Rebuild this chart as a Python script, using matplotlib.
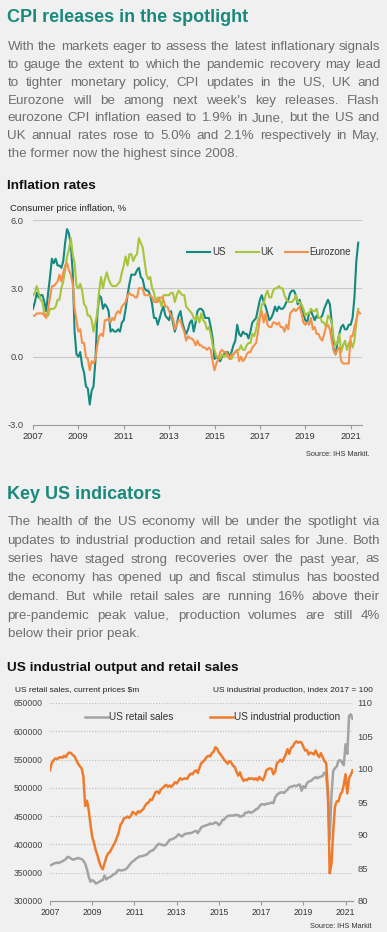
import matplotlib
matplotlib.use('Agg')
import matplotlib.pyplot as plt
import numpy as np
from matplotlib.font_manager import FontProperties

# ---- inflation rates, % y/y, monthly from Jan 2007 ----
us_cpi = [
    2.1, 2.4, 2.8, 2.6, 2.7, 2.7, 2.4, 2.0, 2.8, 3.5, 4.3, 4.1,
    4.3, 4.0, 4.0, 3.9, 4.2, 5.0, 5.6, 5.4, 4.9, 3.7, 1.1, 0.1,
    0.0, 0.2, -0.4, -0.7, -1.3, -1.4, -2.1, -1.5, -1.3, -0.2, 1.8, 2.7,
    2.6, 2.1, 2.3, 2.2, 2.0, 1.1, 1.2, 1.1, 1.1, 1.2, 1.1, 1.5,
    1.6, 2.1, 2.7, 3.2, 3.6, 3.6, 3.6, 3.8, 3.9, 3.5, 3.4, 3.0,
    2.9, 2.9, 2.7, 2.3, 1.7, 1.7, 1.4, 1.7, 2.0, 2.2, 1.8, 1.7,
    1.6, 2.0, 1.5, 1.1, 1.4, 1.8, 2.0, 1.5, 1.2, 1.0, 1.2, 1.5,
    1.6, 1.1, 1.5, 2.0, 2.1, 2.1, 2.0, 1.7, 1.7, 1.7, 1.3, 0.8,
    -0.1, 0.0, -0.1, -0.2, 0.0, 0.1, 0.2, 0.2, 0.0, 0.2, 0.5, 0.7,
    1.4, 1.0, 0.9, 1.1, 1.0, 1.0, 0.8, 1.1, 1.5, 1.6, 1.7, 2.1,
    2.5, 2.7, 2.4, 2.2, 1.9, 1.6, 1.7, 1.9, 2.2, 2.0, 2.2, 2.1,
    2.1, 2.2, 2.4, 2.5, 2.8, 2.9, 2.9, 2.7, 2.3, 2.5, 2.2, 1.9,
    1.6, 1.5, 1.9, 2.0, 1.8, 1.6, 1.8, 1.7, 1.7, 1.8, 2.1, 2.3,
    2.5, 2.3, 1.5, 0.3, 0.1, 0.6, 1.0, 1.3, 1.4, 1.2, 1.2, 1.4,
    1.4, 1.7, 2.6, 4.2, 5.0,
]
uk_cpi = [
    2.7, 2.8, 3.1, 2.8, 2.5, 2.4, 1.9, 1.8, 1.8, 2.1, 2.1, 2.1,
    2.2, 2.5, 2.5, 3.0, 3.3, 3.8, 4.4, 4.7, 5.2, 4.5, 4.1, 3.1,
    3.0, 3.2, 2.9, 2.3, 2.2, 1.8, 1.8, 1.6, 1.1, 1.5, 1.9, 2.9,
    3.5, 3.0, 3.4, 3.7, 3.4, 3.2, 3.1, 3.1, 3.1, 3.2, 3.3, 3.7,
    4.0, 4.4, 4.0, 4.5, 4.5, 4.2, 4.4, 4.5, 5.2, 5.0, 4.8, 4.2,
    3.6, 3.4, 3.5, 3.0, 2.8, 2.4, 2.6, 2.5, 2.2, 2.7, 2.7, 2.7,
    2.7, 2.8, 2.8, 2.4, 2.7, 2.9, 2.8, 2.7, 2.7, 2.2, 2.1, 2.0,
    1.9, 1.7, 1.6, 1.8, 1.5, 1.9, 1.6, 1.5, 1.2, 1.3, 1.0, 0.5,
    0.3, 0.0, 0.0, -0.1, 0.1, 0.0, 0.1, 0.0, -0.1, -0.1, 0.1, 0.2,
    0.3, 0.3, 0.5, 0.3, 0.3, 0.5, 0.6, 0.6, 1.0, 0.9, 1.2, 1.6,
    1.8, 2.3, 2.3, 2.7, 2.9, 2.6, 2.6, 2.9, 3.0, 3.0, 3.1, 3.0,
    3.0, 2.7, 2.5, 2.4, 2.4, 2.4, 2.5, 2.7, 2.4, 2.4, 2.3, 2.1,
    1.8, 1.9, 1.9, 2.1, 2.0, 2.0, 2.1, 1.7, 1.7, 1.5, 1.5, 1.3,
    1.8, 1.7, 1.5, 0.8, 0.5, 0.6, 1.0, 0.2, 0.5, 0.7, 0.3, 0.6,
    0.7, 0.4, 0.7, 1.5, 2.1,
]
ez_cpi = [
    1.8, 1.8, 1.9, 1.9, 1.9, 1.9, 1.8, 1.7, 2.1, 2.6, 3.1, 3.1,
    3.2, 3.3, 3.6, 3.3, 3.7, 4.0, 4.1, 3.8, 3.6, 3.2, 2.1, 1.6,
    1.1, 1.2, 0.6, 0.6, 0.0, -0.1, -0.6, -0.2, -0.3, -0.1, 0.5, 0.9,
    1.0, 0.9, 1.6, 1.6, 1.7, 1.5, 1.7, 1.6, 1.9, 2.0, 1.9, 2.2,
    2.3, 2.4, 2.7, 2.8, 2.7, 2.7, 2.6, 2.6, 3.0, 3.0, 3.0, 2.7,
    2.7, 2.7, 2.7, 2.6, 2.4, 2.4, 2.4, 2.6, 2.6, 2.5, 2.2, 2.2,
    2.0, 1.8, 1.7, 1.2, 1.4, 1.6, 1.6, 1.3, 1.1, 0.7, 0.9, 0.8,
    0.8, 0.7, 0.5, 0.7, 0.5, 0.5, 0.4, 0.4, 0.3, 0.4, 0.3, -0.2,
    -0.6, -0.3, -0.1, 0.2, 0.3, 0.2, 0.2, 0.1, -0.1, 0.1, 0.1, 0.2,
    0.3, -0.2, 0.0, -0.2, -0.1, 0.1, 0.2, 0.2, 0.4, 0.5, 0.6, 1.1,
    1.7, 2.0, 1.5, 1.9, 1.4, 1.3, 1.3, 1.5, 1.5, 1.4, 1.5, 1.3,
    1.3, 1.1, 1.4, 1.2, 1.9, 2.0, 2.1, 2.0, 2.1, 2.2, 1.9, 1.5,
    1.4, 1.5, 1.4, 1.7, 1.2, 1.3, 1.0, 1.0, 0.8, 0.7, 1.0, 1.3,
    1.4, 1.2, 0.7, 0.3, 0.1, 0.3, 0.4, -0.2, -0.3, -0.3, -0.3, -0.3,
    0.9, 0.9, 1.3, 1.6, 2.0, 1.9,
]

# ---- US retail sales ($bn here, x1000 -> $m) and industrial production ----
retail_bn = [
    363, 364, 366, 367, 368, 367, 369, 370, 372, 374, 378, 377,
    375, 373, 374, 375, 376, 375, 374, 371, 366, 356, 343, 334,
    337, 335, 331, 332, 334, 336, 337, 345, 338, 341, 342, 344,
    347, 348, 352, 355, 354, 354, 355, 356, 359, 363, 367, 370,
    372, 375, 377, 379, 379, 380, 381, 382, 385, 388, 389, 391,
    395, 399, 401, 400, 399, 398, 400, 404, 408, 409, 410, 412,
    414, 418, 416, 414, 417, 419, 419, 420, 420, 421, 423, 424,
    420, 425, 430, 432, 433, 434, 435, 437, 436, 437, 439, 438,
    434, 437, 443, 444, 448, 450, 451, 451, 451, 452, 452, 452,
    449, 450, 451, 456, 456, 458, 456, 457, 459, 462, 463, 467,
    471, 471, 470, 472, 472, 473, 474, 473, 483, 488, 490, 492,
    492, 491, 494, 497, 501, 502, 503, 504, 503, 505, 506, 495,
    503, 500, 508, 511, 512, 514, 517, 519, 517, 519, 520, 521,
    527, 524, 483, 410, 487, 530, 535, 538, 548, 549, 545, 540,
    577, 560, 627, 630, 622,
]
ind_prod = [
    99.8, 100.9, 101.3, 101.6, 101.5, 101.7, 101.8, 101.7, 102.0, 101.8, 102.3, 102.5,
    102.4, 102.1, 101.9, 101.3, 100.8, 100.4, 100.1, 98.8, 94.4, 95.2, 93.8, 91.6,
    89.7, 88.8, 87.7, 86.9, 85.9, 85.2, 84.8, 85.7, 86.6, 87.2, 87.4, 87.9,
    88.4, 88.9, 89.6, 90.3, 91.5, 91.9, 92.5, 92.6, 92.8, 92.6, 92.9, 93.5,
    93.3, 93.1, 93.6, 93.4, 93.7, 93.9, 94.4, 94.8, 94.9, 95.4, 95.3, 95.9,
    96.5, 96.6, 96.3, 96.9, 97.1, 97.4, 97.6, 97.3, 97.5, 97.3, 97.6, 98.0,
    97.8, 98.2, 98.6, 98.4, 98.5, 98.6, 98.5, 99.0, 99.3, 99.2, 99.6, 99.8,
    99.4, 100.2, 100.9, 101.1, 101.4, 101.8, 102.0, 101.9, 102.4, 102.6, 103.3, 103.1,
    102.5, 102.2, 101.8, 101.4, 101.1, 100.8, 101.2, 101.0, 100.5, 100.3, 99.6, 99.0,
    99.5, 98.7, 98.2, 98.4, 98.3, 98.6, 98.5, 98.6, 98.4, 98.6, 98.3, 98.8,
    98.5, 98.3, 98.9, 99.8, 100.0, 100.1, 100.0, 99.2, 99.6, 100.9, 101.1, 101.4,
    101.1, 101.6, 102.2, 103.0, 102.3, 103.2, 103.4, 103.9, 104.2, 104.0, 104.1, 104.0,
    103.4, 102.8, 102.9, 102.2, 102.5, 102.4, 102.2, 102.8, 102.2, 101.8, 102.4, 101.8,
    101.2, 100.9, 96.6, 84.2, 85.6, 90.6, 94.3, 95.1, 95.1, 96.1, 96.5, 97.6,
    99.2, 96.3, 98.6, 99.1, 99.8,
]

year_ticks = list(range(2007, 2022, 2))

text1 = [
    "With the markets eager to assess the latest inflationary signals",
    "to gauge the extent to which the pandemic recovery may lead",
    "to tighter monetary policy, CPI updates in the US, UK and",
    "Eurozone will be among next week's key releases. Flash",
    "eurozone CPI inflation eased to 1.9% in June, but the US and",
    "UK annual rates rose to 5.0% and 2.1% respectively in May,",
    "the former now the highest since 2008.",
]
text2 = [
    "The health of the US economy will be under the spotlight via",
    "updates to industrial production and retail sales for June. Both",
    "series have staged strong recoveries over the past year, as",
    "the economy has opened up and fiscal stimulus has boosted",
    "demand. But while retail sales are running 16% above their",
    "pre-pandemic peak value, production volumes are still 4%",
    "below their prior peak.",
]

BG = '#f0f0f0'
TEAL = '#19897c'
GREY_TXT = '#6e6e6e'
FONT = 'Liberation Sans'
W, H = 387, 932

plt.rcParams['font.family'] = FONT

fig = plt.figure(figsize=(W / 100, H / 100), dpi=100, facecolor=BG)
renderer = fig.canvas.get_renderer()


def fy(px):
    return 1 - px / H


def text_width(s, prop):
    return renderer.get_text_width_height_descent(s, prop, ismath=False)[0]


def justified(lines, x0, x1, base, step, size):
    prop = FontProperties(family=FONT, size=size)
    for k, line in enumerate(lines):
        y = fy(base + k * step)
        if k == len(lines) - 1:
            fig.text(x0 / W, y, line, fontproperties=prop, color=GREY_TXT, va='baseline')
            continue
        words = line.split()
        widths = [text_width(w, prop) for w in words]
        gap = (x1 - x0 - sum(widths)) / (len(words) - 1)
        x = x0
        for w, wd in zip(words, widths):
            fig.text(x / W, y, w, fontproperties=prop, color=GREY_TXT, va='baseline')
            x += wd + gap


# paragraph font size so that the tightest line just fits
X0, X1 = 7.5, 380
p10 = FontProperties(family=FONT, size=10)
widest = max(text_width(l, p10) for l in (text1 + text2)[:-1] if l not in (text1[-1],))
body_size = 10 * (X1 - X0) / widest * 0.995

# ---- text blocks ----
fig.text(7 / W, fy(22.5), "CPI releases in the spotlight", color=TEAL, fontsize=13,
         fontweight='bold', va='baseline')
justified(text1, X0, X1, 50, 17.85, body_size)
fig.text(7 / W, fy(189), "Inflation rates", color='#111111', fontsize=9.7,
         fontweight='bold', va='baseline')
fig.text(10 / W, fy(211), "Consumer price inflation, %", color='#222222', fontsize=6.8,
         va='baseline')
fig.text(370 / W, fy(456), "Source: IHS Markit.", color='#333333', fontsize=5.3,
         ha='right', va='baseline')

fig.text(7 / W, fy(499), "Key US indicators", color=TEAL, fontsize=13,
         fontweight='bold', va='baseline')
justified(text2, X0, X1, 525, 18.75, body_size)
fig.text(7 / W, fy(670.5), "US industrial output and retail sales", color='#111111',
         fontsize=9.7, fontweight='bold', va='baseline')
fig.text(15 / W, fy(692), "US retail sales, current prices $m", color='#222222',
         fontsize=6, va='baseline')
fig.text(373 / W, fy(692), "US industrial production, index 2017 = 100", color='#222222',
         fontsize=6, ha='right', va='baseline')
fig.text(372 / W, fy(928), "Source: IHS Markit", color='#333333', fontsize=5.3,
         ha='right', va='baseline')

# ---- chart 1: inflation ----
ax1 = fig.add_axes([33 / W, fy(425), 329 / W, 205 / H])
ax1.set_facecolor(BG)
t_us = 2007 + np.arange(len(us_cpi)) / 12
t_uk = 2007 + np.arange(len(uk_cpi)) / 12
t_ez = 2007 + np.arange(len(ez_cpi)) / 12
ax1.plot(t_us, us_cpi, color='#13897f', lw=1.5, label='US')
ax1.plot(t_uk, uk_cpi, color='#a8c43c', lw=1.5, label='UK')
ax1.plot(t_ez, ez_cpi, color='#f5924a', lw=1.5, label='Eurozone')
ax1.set_xlim(2007, 2021.5)
ax1.set_ylim(-3, 6)
ax1.set_yticks([-3, 0, 3, 6])
ax1.set_yticklabels([f"{v:.1f}" for v in [-3, 0, 3, 6]])
ax1.set_xticks(year_ticks)
ax1.set_xticklabels([str(y) for y in year_ticks])
for v in [0, 3, 6]:
    ax1.axhline(v, color='#c8c8c8', lw=0.8, zorder=0)
for s in ['top', 'left', 'right']:
    ax1.spines[s].set_visible(False)
ax1.spines['bottom'].set_color('#9a9a9a')
ax1.spines['bottom'].set_linewidth(0.8)
ax1.tick_params(axis='x', direction='out', length=3, width=0.8, color='#9a9a9a',
                labelsize=6.7, labelcolor='#333333', pad=2)
ax1.tick_params(axis='y', length=0, labelsize=6.7, labelcolor='#444444', pad=6.5)
ax1.legend(loc='center left', bbox_to_anchor=(0.468, 0.844), ncol=3, frameon=False,
           fontsize=7, handlelength=2.4, handletextpad=0.15, columnspacing=1.1,
           borderaxespad=0, borderpad=0, labelcolor='#333333')

# ---- chart 2: retail sales and industrial production ----
ax2 = fig.add_axes([50 / W, fy(901), 303 / W, 198 / H])
ax2.set_facecolor(BG)
t_rs = 2007 + np.arange(len(retail_bn)) / 12
t_ip = 2007 + np.arange(len(ind_prod)) / 12
l_rs, = ax2.plot(t_rs, np.array(retail_bn) * 1000, color='#a3a3a3', lw=1.8,
                 label='US retail sales')
ax2.set_xlim(2007, 2021 + 4 / 12 + 0.02)
ax2.set_ylim(300000, 650000)
ax2.set_yticks(range(300000, 650001, 50000))
ax2.set_yticklabels([str(v) for v in range(300000, 650001, 50000)])
ax2.set_xticks(year_ticks)
ax2.set_xticklabels([str(y) for y in year_ticks])
for v in range(350000, 650001, 50000):
    ax2.axhline(v, color='#bdbdbd', lw=0.8, ls=(0, (1, 1.5)), zorder=0)
ax3 = ax2.twinx()
l_ip, = ax3.plot(t_ip, ind_prod, color='#ee7b2c', lw=1.8, label='US industrial production')
ax3.set_ylim(80, 110)
ax3.set_yticks(range(80, 111, 5))
for a in (ax2, ax3):
    for s in ['top', 'left', 'right']:
        a.spines[s].set_visible(False)
    a.spines['bottom'].set_color('#9a9a9a')
    a.spines['bottom'].set_linewidth(0.8)
ax2.tick_params(axis='x', direction='out', length=3, width=0.8, color='#9a9a9a',
                labelsize=6.2, labelcolor='#333333', pad=2)
ax2.tick_params(axis='y', length=0, labelsize=6.2, labelcolor='#444444', pad=5)
ax3.tick_params(axis='y', length=0, labelsize=6.8, labelcolor='#444444', pad=3)
ax3.legend(handles=[l_rs, l_ip], loc='center left', bbox_to_anchor=(0.115, 0.929), ncol=2,
           frameon=False, fontsize=7.2, handlelength=2.3, handletextpad=0.15,
           columnspacing=3.6, borderaxespad=0, borderpad=0, labelcolor='#333333')

fig.savefig('out.png', dpi=100, facecolor=BG)
